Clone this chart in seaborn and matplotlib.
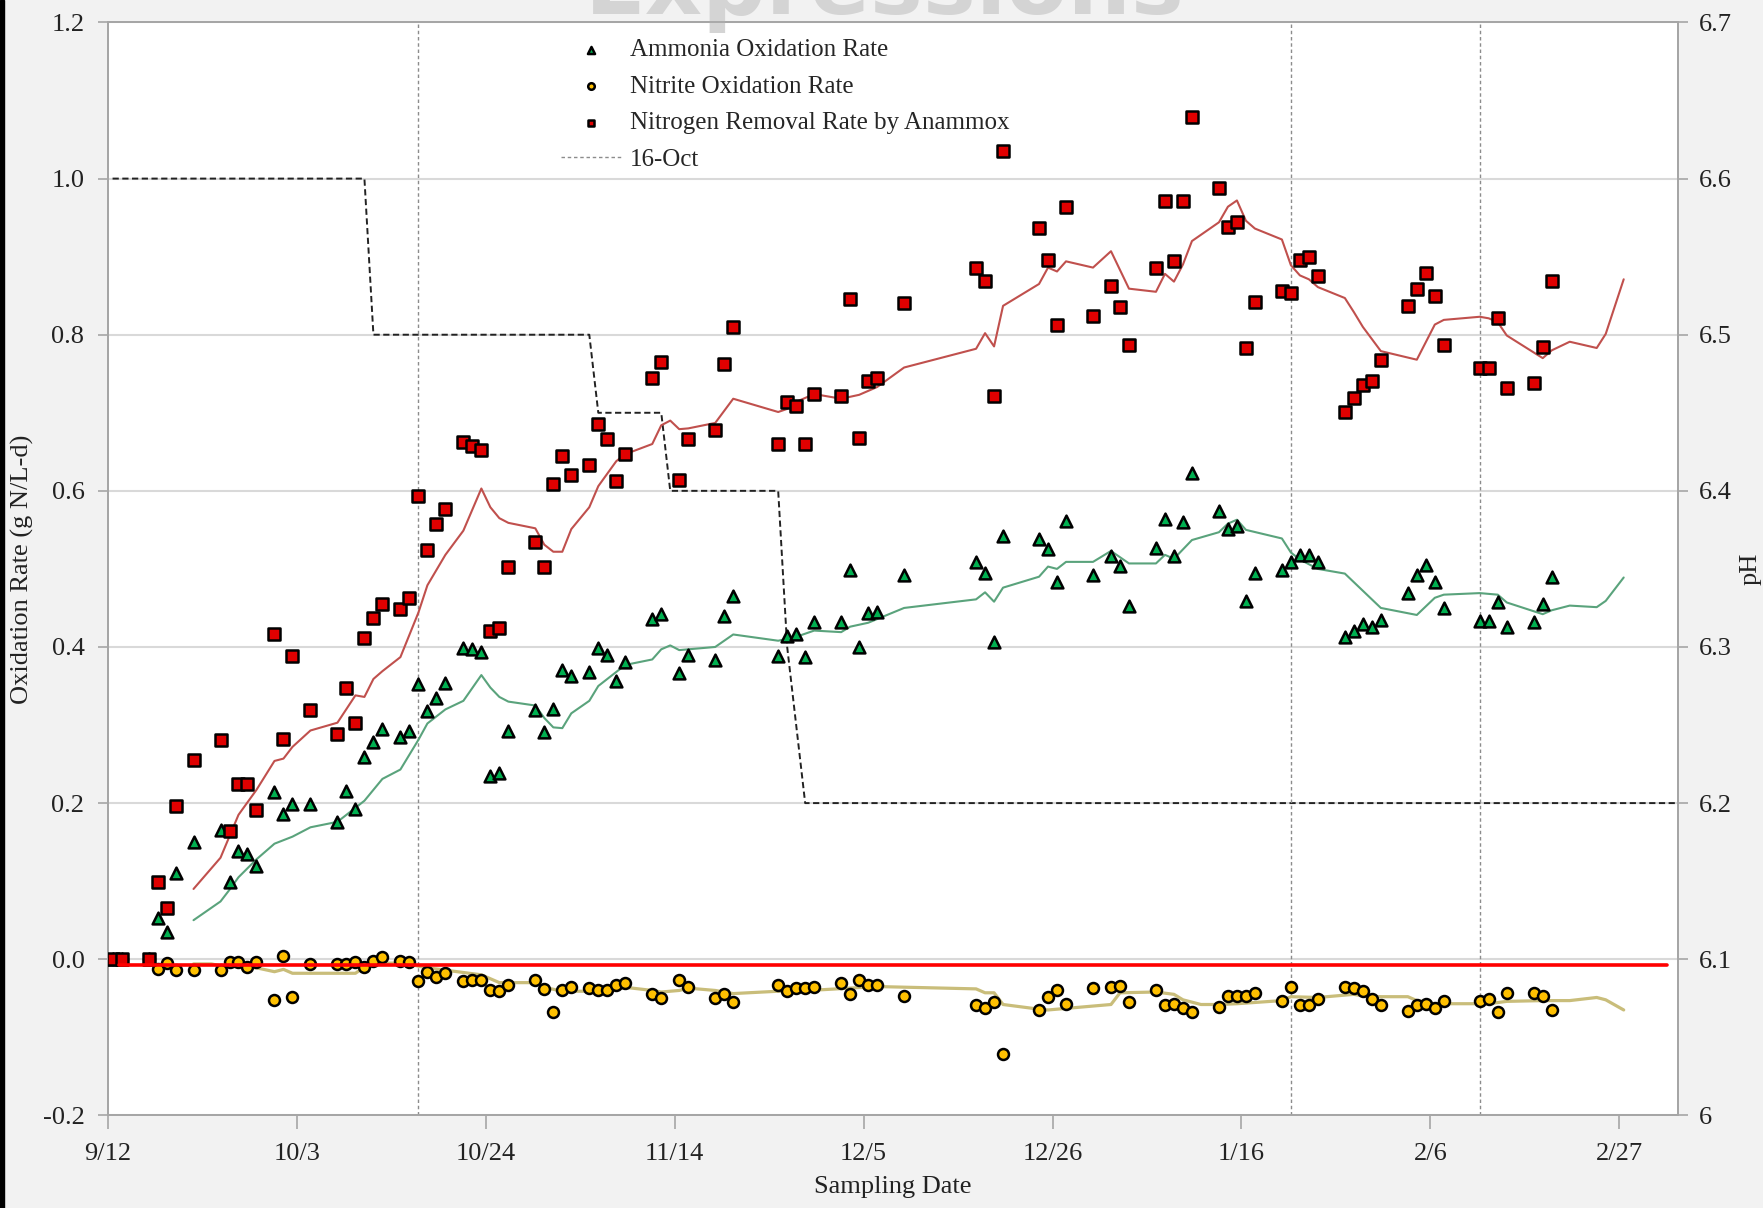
import matplotlib
matplotlib.use("Agg")
import matplotlib.pyplot as plt
from matplotlib.patches import Rectangle
import numpy as np
import pandas as pd
import seaborn as sns

START = pd.Timestamp("2012-09-12")

# sampling days, counted from 9/12
sample_days = [0, 1, 4, 5, 6, 7, 9, 12, 13, 14, 15, 16, 18, 19, 20, 22, 25, 26, 27, 28,
               29, 30, 32, 33, 34, 35, 36, 37, 39, 40, 41, 42, 43, 44, 47, 48, 49, 50,
               51, 53, 54, 55, 56, 57, 60, 61, 63, 64, 67, 68, 69, 74, 75, 76, 77, 78,
               81, 82, 83, 84, 85, 88, 96, 97, 98, 99, 103, 104, 105, 106, 109, 111,
               112, 113, 116, 117, 118, 119, 120, 123, 124, 125, 126, 127, 130, 131,
               132, 133, 134, 137, 138, 139, 140, 141, 144, 145, 146, 147, 148, 152,
               153, 154, 155, 158, 159, 160]

ammonia_rate = [0, 0, 0, 0.053, 0.035, 0.111, 0.150, 0.165, 0.099, 0.138, 0.135, 0.119,
                0.214, 0.186, 0.199, 0.199, 0.176, 0.216, 0.193, 0.259, 0.278, 0.295,
                0.285, 0.292, 0.353, 0.318, 0.335, 0.354, 0.399, 0.397, 0.393, 0.235,
                0.239, 0.292, 0.319, 0.291, 0.321, 0.371, 0.363, 0.368, 0.399, 0.390,
                0.357, 0.381, 0.436, 0.442, 0.367, 0.390, 0.383, 0.440, 0.465, 0.388,
                0.414, 0.416, 0.387, 0.432, 0.432, 0.499, 0.400, 0.443, 0.445, 0.492,
                0.509, 0.495, 0.407, 0.542, 0.538, 0.525, 0.483, 0.561, 0.492, 0.517,
                0.504, 0.453, 0.527, 0.564, 0.517, 0.560, 0.623, 0.574, 0.551, 0.555,
                0.459, 0.495, 0.499, 0.509, 0.518, 0.518, 0.509, 0.413, 0.420, 0.429,
                0.426, 0.435, 0.469, 0.492, 0.505, 0.483, 0.450, 0.433, 0.433, 0.458,
                0.426, 0.432, 0.455, 0.489]

nitrite_rate = [0, 0, 0, -0.013, -0.005, -0.014, -0.014, -0.014, -0.003, -0.004, -0.010,
                -0.003, -0.052, 0.004, -0.048, -0.006, -0.006, -0.006, -0.003, -0.010,
                -0.002, 0.003, -0.002, -0.003, -0.028, -0.016, -0.023, -0.018, -0.028,
                -0.026, -0.026, -0.039, -0.041, -0.033, -0.026, -0.038, -0.068, -0.039,
                -0.035, -0.037, -0.039, -0.039, -0.033, -0.031, -0.045, -0.050, -0.027,
                -0.035, -0.050, -0.045, -0.055, -0.033, -0.041, -0.037, -0.037, -0.035,
                -0.031, -0.044, -0.026, -0.033, -0.033, -0.047, -0.059, -0.063, -0.055,
                -0.121, -0.065, -0.049, -0.039, -0.057, -0.037, -0.036, -0.034, -0.055,
                -0.040, -0.059, -0.057, -0.063, -0.068, -0.061, -0.047, -0.047, -0.047,
                -0.043, -0.053, -0.036, -0.059, -0.059, -0.051, -0.036, -0.037, -0.041,
                -0.051, -0.059, -0.066, -0.059, -0.057, -0.062, -0.053, -0.053, -0.051,
                -0.068, -0.043, -0.043, -0.047, -0.065]

anammox_rate = [0, 0, 0, 0.099, 0.066, 0.196, 0.255, 0.281, 0.164, 0.224, 0.224, 0.191,
                0.417, 0.282, 0.388, 0.319, 0.288, 0.348, 0.302, 0.412, 0.437, 0.455,
                0.449, 0.463, 0.594, 0.524, 0.557, 0.577, 0.662, 0.658, 0.652, 0.420,
                0.424, 0.502, 0.535, 0.502, 0.609, 0.645, 0.620, 0.633, 0.686, 0.666,
                0.613, 0.647, 0.745, 0.765, 0.614, 0.666, 0.678, 0.763, 0.810, 0.660,
                0.714, 0.709, 0.660, 0.724, 0.721, 0.846, 0.668, 0.741, 0.745, 0.840,
                0.886, 0.869, 0.721, 1.035, 0.937, 0.896, 0.812, 0.964, 0.824, 0.862,
                0.836, 0.787, 0.885, 0.971, 0.894, 0.971, 1.079, 0.988, 0.938, 0.945,
                0.783, 0.842, 0.856, 0.853, 0.896, 0.899, 0.875, 0.701, 0.719, 0.735,
                0.741, 0.768, 0.837, 0.858, 0.879, 0.850, 0.787, 0.757, 0.757, 0.822,
                0.732, 0.738, 0.784, 0.869]

# trend lines (they run on past the last sample)
anammox_trend_days = [9, 12, 14, 16, 18, 19, 20, 22, 25, 27, 28, 29, 30, 32, 34, 35, 37,
                      39, 41, 42, 43, 44, 47, 48, 49, 50, 51, 53, 54, 56, 57, 60, 61, 62,
                      63, 64, 67, 69, 74, 75, 76, 78, 81, 83, 85, 88, 96, 97, 98, 99, 103,
                      104, 105, 106, 109, 111, 113, 116, 117, 118, 119, 120, 123, 124, 125,
                      126, 127, 130, 131, 132, 133, 134, 137, 138, 139, 141, 145, 147, 148,
                      152, 153, 154, 155, 159, 160, 162, 165, 166, 168]
anammox_trend = [0.090, 0.130, 0.185, 0.217, 0.254, 0.257, 0.272, 0.293, 0.303, 0.338,
                 0.336, 0.359, 0.369, 0.387, 0.444, 0.479, 0.518, 0.549, 0.603, 0.579,
                 0.565, 0.559, 0.552, 0.531, 0.522, 0.522, 0.551, 0.579, 0.606, 0.638,
                 0.647, 0.660, 0.684, 0.690, 0.679, 0.680, 0.687, 0.718, 0.701, 0.705,
                 0.714, 0.724, 0.718, 0.723, 0.733, 0.758, 0.782, 0.802, 0.785, 0.837,
                 0.865, 0.886, 0.881, 0.894, 0.886, 0.907, 0.859, 0.855, 0.878, 0.868,
                 0.890, 0.920, 0.944, 0.964, 0.972, 0.946, 0.936, 0.922, 0.889, 0.876,
                 0.871, 0.861, 0.847, 0.829, 0.810, 0.779, 0.768, 0.813, 0.819, 0.823,
                 0.821, 0.816, 0.799, 0.770, 0.780, 0.791, 0.783, 0.801, 0.871]

ammonia_trend_days = [9, 12, 13, 14, 16, 18, 20, 22, 25, 27, 28, 29, 30, 32, 34, 35, 37,
                      39, 41, 42, 43, 44, 47, 48, 49, 50, 51, 53, 54, 56, 57, 60, 61, 62,
                      63, 67, 69, 74, 76, 78, 81, 82, 84, 88, 96, 97, 98, 99, 103, 104,
                      105, 106, 109, 111, 113, 116, 117, 118, 120, 123, 124, 125, 126,
                      130, 131, 132, 134, 137, 141, 145, 147, 148, 152, 154, 155, 159,
                      160, 162, 165, 166, 168]
ammonia_trend = [0.050, 0.074, 0.089, 0.105, 0.128, 0.148, 0.157, 0.169, 0.176, 0.194,
                 0.203, 0.217, 0.231, 0.243, 0.281, 0.302, 0.320, 0.331, 0.364, 0.348,
                 0.336, 0.330, 0.325, 0.309, 0.297, 0.296, 0.315, 0.331, 0.350, 0.368,
                 0.377, 0.384, 0.397, 0.402, 0.396, 0.400, 0.416, 0.408, 0.413, 0.421,
                 0.419, 0.426, 0.431, 0.450, 0.461, 0.470, 0.458, 0.476, 0.490, 0.503,
                 0.500, 0.509, 0.509, 0.523, 0.507, 0.507, 0.518, 0.513, 0.537, 0.547,
                 0.558, 0.563, 0.550, 0.539, 0.521, 0.512, 0.500, 0.494, 0.450, 0.441,
                 0.463, 0.467, 0.469, 0.467, 0.457, 0.442, 0.447, 0.453, 0.451, 0.459,
                 0.489]

nitrite_trend_days = [9, 11, 12, 16, 18, 19, 20, 27, 28, 29, 30, 32, 33, 34, 35, 37, 41,
                      43, 47, 48, 50, 51, 55, 57, 60, 61, 63, 64, 67, 69, 74, 79, 82, 85,
                      96, 97, 98, 99, 103, 104, 111, 112, 116, 118, 119, 121, 123, 125,
                      130, 131, 134, 138, 139, 141, 144, 145, 147, 152, 153, 155, 159,
                      162, 165, 166, 168]
nitrite_trend = [-0.006, -0.006, -0.0085, -0.011, -0.016, -0.013, -0.018, -0.018, -0.010,
                 -0.007, -0.005, -0.005, -0.006, -0.009, -0.011, -0.014, -0.020, -0.030,
                 -0.030, -0.036, -0.041, -0.041, -0.041, -0.036, -0.040, -0.042, -0.040,
                 -0.037, -0.040, -0.044, -0.041, -0.039, -0.037, -0.035, -0.038, -0.043,
                 -0.043, -0.058, -0.064, -0.065, -0.058, -0.043, -0.042, -0.045, -0.052,
                 -0.058, -0.058, -0.057, -0.053, -0.048, -0.049, -0.045, -0.047, -0.048,
                 -0.048, -0.053, -0.057, -0.057, -0.057, -0.054, -0.053, -0.053, -0.049,
                 -0.052, -0.065]

# reactor pH set point (right axis)
ph_days = [0, 28, 29, 53, 54, 61, 62, 74, 75, 76, 77, 174]
ph_values = [6.6, 6.6, 6.5, 6.5, 6.45, 6.45, 6.4, 6.4, 6.3, 6.25, 6.2, 6.2]

event_days = [34, 131, 152]          # 16-Oct and two later events
baseline_days = [0.7, 172.8]
baseline_level = -0.008

x_tick_labels = ["9/12", "10/3", "10/24", "11/14", "12/5", "12/26", "1/16", "2/6", "2/27"]
y_left_labels = ["-0.2", "0.0", "0.2", "0.4", "0.6", "0.8", "1.0", "1.2"]
y_right_labels = ["6", "6.1", "6.2", "6.3", "6.4", "6.5", "6.6", "6.7"]


def to_date(days):
    # Excel puts each point in the middle of its day
    return START + pd.to_timedelta(np.asarray(days, dtype=float) + 0.5, unit="D")


sns.set_style("white")
plt.rcParams["font.family"] = ["Liberation Serif", "DejaVu Serif"]

fig = plt.figure(figsize=(17.63, 12.08), dpi=100, facecolor="#f2f2f2")
ax = fig.add_axes([0.0613, 0.0767, 0.8903, 0.9047])
ax2 = ax.twinx()
# rates on top, pH axis (with the white background) underneath
ax.set_zorder(ax2.get_zorder() + 1)
ax.patch.set_visible(False)
ax2.patch.set_visible(True)
ax2.set_facecolor("white")

samples = pd.DataFrame({
    "date": to_date(sample_days),
    "ammonia": ammonia_rate,
    "nitrite": nitrite_rate,
    "anammox": anammox_rate,
})

# grid lives on the pH axis so the dashed pH line sits on top of it
ax2.set_axisbelow(True)
ax2.grid(axis="y", color="#d9d9d9", lw=1.5)
sns.lineplot(x=to_date(ph_days), y=ph_values, ax=ax2, color="#222222", lw=1.4,
             linestyle=(0, (3.2, 1.8)), zorder=3)

for d in event_days:
    ax.axvline(to_date([d])[0], color="#8c8c8c", lw=1.0, linestyle=(0, (2.5, 2)),
               zorder=1, label="16-Oct" if d == event_days[0] else None)

sns.lineplot(x=to_date(nitrite_trend_days), y=nitrite_trend, ax=ax,
             color="#c9bd7a", lw=2.3, zorder=2)
sns.lineplot(x=to_date(ammonia_trend_days), y=ammonia_trend, ax=ax,
             color="#5aa37c", lw=1.5, zorder=2)
sns.lineplot(x=to_date(anammox_trend_days), y=anammox_trend, ax=ax,
             color="#c0504d", lw=1.5, zorder=2)

sns.scatterplot(data=samples, x="date", y="nitrite", ax=ax, marker="o", s=62,
                color="#ffc000", edgecolor="black", linewidth=1.8, zorder=3,
                label="Nitrite Oxidation Rate")
sns.scatterplot(data=samples, x="date", y="ammonia", ax=ax, marker="^", s=72,
                color="#00b050", edgecolor="black", linewidth=1.8, zorder=4,
                label="Ammonia Oxidation Rate")
sns.scatterplot(data=samples, x="date", y="anammox", ax=ax, marker="s", s=68,
                color="#e00000", edgecolor="black", linewidth=1.8, zorder=5,
                label="Nitrogen Removal Rate by Anammox")

sns.lineplot(x=to_date(baseline_days), y=[baseline_level] * len(baseline_days), ax=ax,
             color="#ff0000", lw=2.6, zorder=6)

# axes ranges and ticks
x_ticks = pd.date_range(START, periods=len(x_tick_labels), freq="21D")
ax.set_xlim(START, START + pd.Timedelta(days=174.5))
ax.set_xticks(x_ticks)
ax.set_xticklabels(x_tick_labels)

ax.set_ylim(-0.2, 1.2)
ax.set_yticks([float(v) for v in y_left_labels])
ax.set_yticklabels(y_left_labels)
ax2.set_ylim(6.0, 6.7)
ax2.set_yticks([float(v) for v in y_right_labels])
ax2.set_yticklabels(y_right_labels)

for a in (ax, ax2):
    for sp in a.spines.values():
        sp.set_color("#a6a6a6")
        sp.set_linewidth(1.3)
ax.tick_params(axis="x", direction="out", length=10, width=1.2, color="#a6a6a6",
               labelsize=19, labelcolor="#222222", bottom=True, pad=10)
ax.tick_params(axis="y", direction="out", length=7, width=1.2, color="#a6a6a6",
               labelsize=19, labelcolor="#222222", left=True, pad=10)
ax2.tick_params(axis="y", direction="out", length=7, width=1.2, color="#a6a6a6",
                labelsize=19, labelcolor="#222222", right=True, pad=8)

ax.set_xlabel("Sampling Date", fontsize=19, color="#222222", labelpad=8)
ax.set_ylabel("Oxidation Rate (g N/L-d)", fontsize=19, color="#222222", labelpad=6)
ax2.set_ylabel("pH", fontsize=19, color="#222222", labelpad=6)

handles, labels = ax.get_legend_handles_labels()
order = ["Ammonia Oxidation Rate", "Nitrite Oxidation Rate",
         "Nitrogen Removal Rate by Anammox", "16-Oct"]
lookup = dict(zip(labels, handles))
ax.legend([lookup[k] for k in order], order, loc="upper left",
          bbox_to_anchor=(0.3125, 0.976), bbox_transform=fig.transFigure,
          frameon=False, fontsize=18, markerscale=0.6, handlelength=2.4,
          handletextpad=0.35, labelspacing=0.56, borderaxespad=0)

# screenshot leftovers: blurred watermark at the top, dark strip on the left
fig.text(0.502, 1 - 14 / 1208, "Expressions", ha="center", va="baseline",
         fontsize=64, fontweight="bold", family="DejaVu Sans", color="#d4d4d4",
         zorder=0)
fig.patches.append(Rectangle((0, 0), 4 / 1763, 1, transform=fig.transFigure,
                             color="black", zorder=10))

fig.savefig("out.png", dpi=100, facecolor=fig.get_facecolor())
